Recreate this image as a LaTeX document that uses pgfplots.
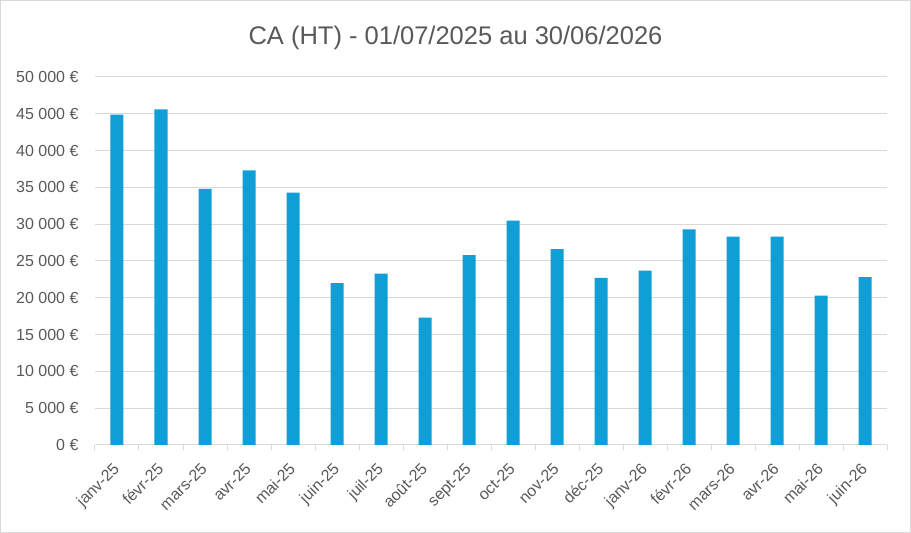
\documentclass[border=0pt]{standalone}
\usepackage{pgfplots}
\pgfplotsset{compat=1.18}
\usepackage{fontspec}
\setmainfont{Liberation Sans}
\definecolor{barblue}{HTML}{0F9ED5}
\definecolor{gridgray}{HTML}{D9D9D9}
\definecolor{txtgray}{HTML}{595959}
\begin{document}
\begin{tikzpicture}[x=1pt,y=1pt]
\useasboundingbox (0,0) rectangle (911,533);
\draw[gridgray, line width=1pt] (0.5,0.5) rectangle (910.5,532.5);
\node[txtgray, font=\fontsize{25.5}{30}\selectfont] at (455.5,495) {CA (HT) - 01/07/2025 au 30/06/2026};
\begin{axis}[
  at={(95pt,88pt)}, anchor=south west,
  scale only axis, width=792pt, height=368pt,
  xmin=-0.5, xmax=17.5, ymin=0, ymax=50000,
  scaled y ticks=false,
  axis lines=left,
  y axis line style={draw=none},
  x axis line style={-, gridgray, line width=1pt},
  ymajorgrids,
  grid style={gridgray, line width=1pt},
  ytick={0,5000,...,50000},
  yticklabels={0 €, 5 000 €, 10 000 €, 15 000 €, 20 000 €, 25 000 €, 30 000 €, 35 000 €, 40 000 €, 45 000 €, 50 000 €},
  xtick={0,...,17},
  xticklabels={janv-25, févr-25, mars-25, avr-25, mai-25, juin-25, juil-25, août-25, sept-25, oct-25, nov-25, déc-25, janv-26, févr-26, mars-26, avr-26, mai-26, juin-26},
  minor xtick={-0.5,0.5,...,17.5},
  tick align=outside,
  major tick length=0pt,
  minor tick length=5pt,
  minor tick style={gridgray, line width=1pt},
  major tick style={draw=none},
  yticklabel style={txtgray, font=\fontsize{16}{19}\selectfont, xshift=-13pt},
  xticklabel style={txtgray, font=\fontsize{16}{19}\selectfont, xshift=-5pt, yshift=-12pt, rotate=45, anchor=north east},
]
\addplot[ybar, bar width=13pt, fill=barblue, draw=none] coordinates {
(0,44900) (1,45600) (2,34800) (3,37300) (4,34300) (5,22000)
(6,23300) (7,17300) (8,25800) (9,30500) (10,26600) (11,22700)
(12,23700) (13,29300) (14,28300) (15,28300) (16,20300) (17,22800)};
\end{axis}
\end{tikzpicture}
\end{document}
